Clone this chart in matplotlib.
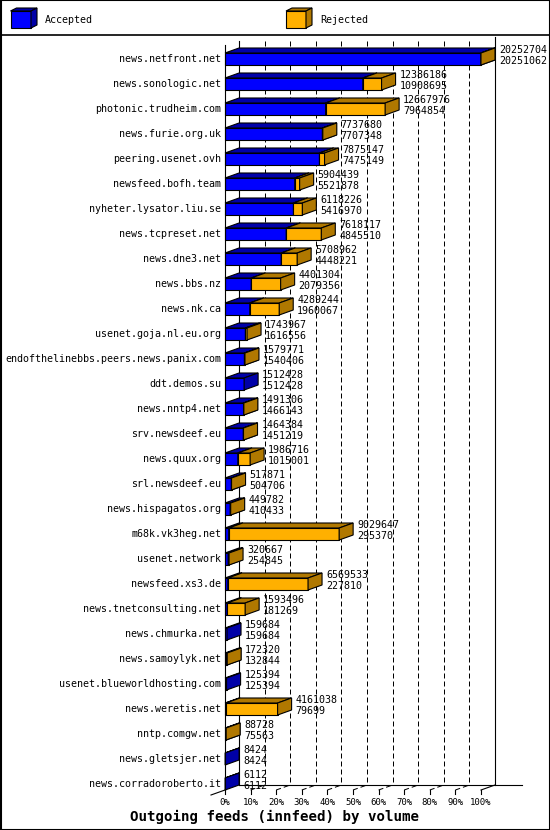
import matplotlib
matplotlib.use('Agg')
import matplotlib.pyplot as plt
from matplotlib.patches import Polygon, Rectangle

hosts = [
    'news.netfront.net', 'news.sonologic.net', 'photonic.trudheim.com',
    'news.furie.org.uk', 'peering.usenet.ovh', 'newsfeed.bofh.team',
    'nyheter.lysator.liu.se', 'news.tcpreset.net', 'news.dne3.net',
    'news.bbs.nz', 'news.nk.ca', 'usenet.goja.nl.eu.org',
    'endofthelinebbs.peers.news.panix.com', 'ddt.demos.su', 'news.nntp4.net',
    'srv.newsdeef.eu', 'news.quux.org', 'srl.newsdeef.eu',
    'news.hispagatos.org', 'm68k.vk3heg.net', 'usenet.network',
    'newsfeed.xs3.de', 'news.tnetconsulting.net', 'news.chmurka.net',
    'news.samoylyk.net', 'usenet.blueworldhosting.com', 'news.weretis.net',
    'nntp.comgw.net', 'news.gletsjer.net', 'news.corradoroberto.it',
]
offered = [
    20252704, 12386186, 12667976, 7737680, 7875147, 5904439, 6118226,
    7618117, 5708962, 4401304, 4289244, 1743967, 1579771, 1512428,
    1491306, 1464384, 1986716, 517871, 449782, 9029647, 320667,
    6569533, 1593496, 159684, 172320, 125394, 4161038, 88728, 8424, 6112,
]
accepted = [
    20251062, 10908695, 7964854, 7707348, 7475149, 5521878, 5416970,
    4845510, 4448221, 2079356, 1960067, 1616556, 1540406, 1512428,
    1466143, 1451219, 1015001, 504706, 410433, 295370, 254845,
    227810, 181269, 159684, 132844, 125394, 79699, 75563, 8424, 6112,
]
pct_ticks = list(range(0, 101, 10))

BLUE, BLUE_DK = '#0000ff', '#0000a8'
ORANGE, ORANGE_DK = '#ffb000', '#b07800'
FONT = 'DejaVu Sans Mono'

W, H = 550, 830
PX_X = 256 / 100.0      # pixels per percent
PX_Y = 25.0             # pixels per row
DX = 14 / PX_X          # 3d depth in percent
DY = 5 / PX_Y           # 3d depth in rows
HALF = 6 / PX_Y         # half bar height in rows

fig = plt.figure(figsize=(W / 100, H / 100), dpi=100)

# frame axes in pixel units for border and legend
frame = fig.add_axes([0, 0, 1, 1])
frame.set_xlim(0, W)
frame.set_ylim(H, 0)
frame.axis('off')
frame.add_patch(Rectangle((0.5, 0.5), W - 1, H - 1, fill=False, ec='black', lw=1.5))
frame.plot([0, W], [35.5, 35.5], color='black', lw=1.2)


def box3d(ax, x0, x1, y, half, dx, dy, front, dark, z=3):
    # front, top, side faces of a little 3d bar
    top, bot = y - half, y + half
    faces = [
        ([(x0, top), (x1, top), (x1, bot), (x0, bot)], front),
        ([(x0, top), (x1, top), (x1 + dx, top - dy), (x0 + dx, top - dy)], dark),
        ([(x1, top), (x1 + dx, top - dy), (x1 + dx, bot - dy), (x1, bot)], dark),
    ]
    for pts, col in faces:
        ax.add_patch(Polygon(pts, closed=True, fc=col, ec='black', lw=0.8,
                             joinstyle='miter', zorder=z, clip_on=False))


# legend
box3d(frame, 10.5, 31, 19.5, 8.5, 6, 3, BLUE, BLUE_DK)
frame.text(45, 20, 'Accepted', family=FONT, fontsize=7.2, va='center')
box3d(frame, 286, 306, 19.5, 8.5, 6, 3, ORANGE, ORANGE_DK)
frame.text(320, 20, 'Rejected', family=FONT, fontsize=7.2, va='center')

# main chart axes: x in percent of max, y in row index
top_px, bot_px = 34, 790
ax = fig.add_axes([225 / W, (H - bot_px) / H, 256 / W, (bot_px - top_px) / H])
ax.set_xlim(0, 100)
row_top = (top_px - 59) / PX_Y
row_bot = (bot_px - 59) / PX_Y
ax.set_ylim(row_bot, row_top)
ax.axis('off')

floor_back = (785 - 59) / PX_Y
wall_top = (41 - 59) / PX_Y

# back wall grid
for p in pct_ticks[1:-1]:
    ax.plot([p + DX, p + DX], [wall_top, floor_back], color='black', lw=0.72,
            dashes=(5, 3), zorder=1, clip_on=False)
    ax.plot([p, p + DX], [row_bot, floor_back], color='black', lw=0.72,
            dashes=(5, 3), zorder=1, clip_on=False)
ax.plot([DX, DX], [wall_top, floor_back], color='black', lw=0.8, zorder=1, clip_on=False)
ax.plot([100 + DX, 100 + DX], [(37 - 59) / PX_Y, floor_back], color='black', lw=0.8,
        zorder=1, clip_on=False)
ax.plot([DX, (522 - 225) / PX_X], [floor_back, floor_back], color='black', lw=0.8,
        zorder=1, clip_on=False)
ax.plot([100, 100 + DX], [row_bot, floor_back], color='black', lw=0.8, zorder=1, clip_on=False)
ax.plot([-DX, 0], [row_bot + DY, row_bot], color='black', lw=0.8, zorder=1, clip_on=False)
ax.plot([0, 0], [(45 - 59) / PX_Y, row_bot], color='black', lw=0.8, zorder=5, clip_on=False)

# x ticks and labels
for p in pct_ticks:
    ax.plot([p, p], [row_bot, row_bot + 4 / PX_Y], color='black', lw=0.8, clip_on=False)
    ax.text(p, row_bot + 12 / PX_Y, f'{p}%', family=FONT, fontsize=6.5,
            ha='center', va='center', clip_on=False)
ax.text((275 - 225) / PX_X, row_bot + 27 / PX_Y, 'Outgoing feeds (innfeed) by volume',
        family=FONT, fontsize=10.2, fontweight='bold', ha='center', va='center')

# bars
vmax = max(offered)
for i, (name, off, acc) in enumerate(zip(hosts, offered, accepted)):
    a = acc / vmax * 100
    o = off / vmax * 100
    box3d(ax, 0, a, i, HALF, DX, DY, BLUE, BLUE_DK)
    if off > acc:
        box3d(ax, a, o, i, HALF, DX, DY, ORANGE, ORANGE_DK, z=4)
    ax.text(-4 / PX_X, i, name, family=FONT, fontsize=7.2, ha='right', va='center')
    tx = max(o, a) + DX + 4 / PX_X
    ax.text(tx, i - 9 / PX_Y, str(off), family=FONT, fontsize=7.2, va='center', zorder=6)
    ax.text(tx, i + 2 / PX_Y, str(acc), family=FONT, fontsize=7.2, va='center', zorder=6)

fig.savefig('out.png', dpi=100)
